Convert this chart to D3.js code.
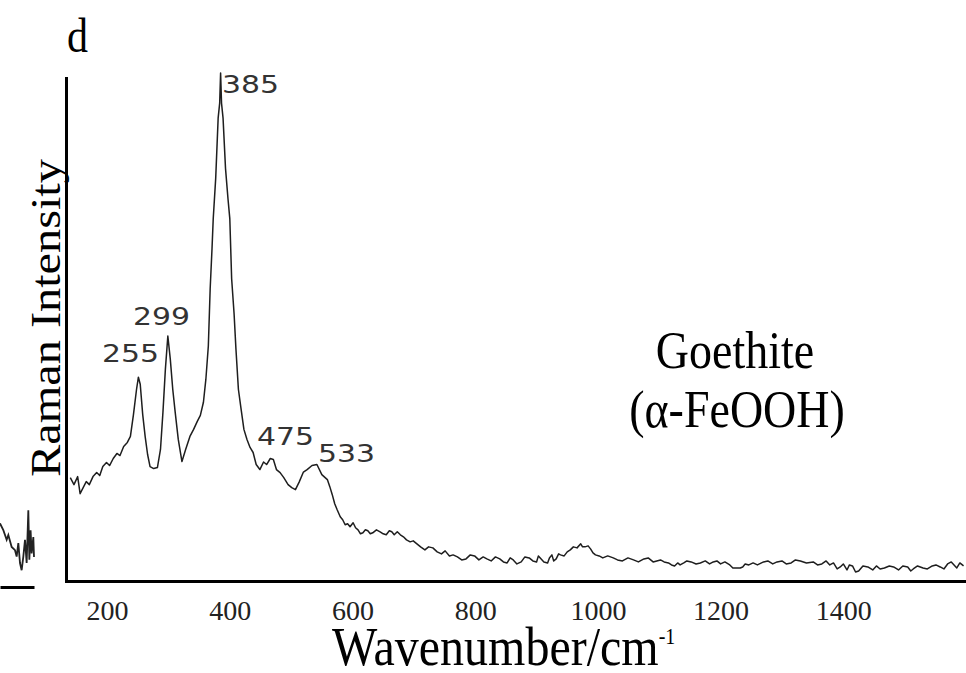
<!DOCTYPE html>
<html>
<head>
<meta charset="utf-8">
<script src="https://cdnjs.cloudflare.com/ajax/libs/d3/7.8.5/d3.min.js"></script>
<style>
  body { margin: 0; background: #fff; }
  svg { display: block; }
</style>
</head>
<body>
<div id="chart"></div>
<script>
// wavenumber (cm-1) and intensity (arbitrary, 0-100)
const wavenumbers = [140,146,152,156,161,166,171,177,183,188,193,199,204,210,216,221,227,233,238,243,248,251,254,258,262,266,270,276,282,287,291,295,299,303,307,311,316,322,328,335,341,347,352,357,361,365,368,371,373,377,381,383.5,385,386.5,389,393,397,400,403,407,410,414,418,423,428,433,438,443,449,455,460,466,471,476,482,488,495,501,507,513,520,526,534,542,550,559,563,567,571,575,580,584,588,592,596,601,605,609,613,617,621,625,629,633,639,645,650,655,660,664,668,673,678,683,688,694,699,705,711,718,724,731,738,745,751,758,764,771,778,785,792,799,806,813,819,826,833,840,846,852,857,862,868,875,881,888,894,900,903,906,912,918,921,925,928,932,936,939,945,950,955,960,966,972,975,979,984,988,992,996,1002,1008,1016,1025,1032,1040,1049,1058,1066,1075,1082,1090,1096,1102,1108,1115,1120,1125,1130,1134,1140,1145,1152,1160,1167,1175,1182,1188,1194,1200,1207,1215,1220,1225,1232,1236,1240,1246,1253,1260,1270,1277,1285,1292,1300,1307,1315,1322,1330,1340,1351,1358,1365,1372,1378,1384,1390,1395,1400,1406,1410,1415,1420,1425,1432,1440,1448,1454,1460,1467,1475,1482,1490,1497,1505,1510,1514,1521,1530,1537,1545,1551,1558,1564,1570,1576,1585,1590,1596];
const intensity = [20.4,19.0,20.6,17.2,18.4,19.6,19.0,20.6,21.4,20.8,22.6,23.4,22.8,24.2,25.2,24.8,26.6,27.4,28.6,33,38,40.4,39,33,28.6,25,22.6,22.2,22.4,26,33.4,42,48.6,44,38,33.4,28,23.6,26,28.6,30,31.6,32.8,35.4,40,46.6,58,66,72,80,92,95,101,95,92,82,76,72,60,53,46,38,34.4,30,28,26.4,25.4,23,22,23.5,23,24.2,24,22,21.4,20.4,19,18.4,18,19.5,21.5,22,22.8,23,21,20,18.6,17,15.2,14,12.6,12,11.0,11.2,10.6,11.4,10.4,10,9.2,9.4,10.0,9.8,9.2,9.4,10.0,9.6,9.2,9.0,9.8,9.6,9.0,9.6,9.0,8.6,8.0,7.6,7.8,7.2,6.6,6.0,6.6,6.4,5.6,5.2,5.8,4.8,5.0,4.6,4.0,4.2,5.0,4.8,4.0,4.6,4.2,3.8,4.6,4.2,3.6,3.4,4.4,4.0,3.2,3.6,4.6,4.4,3.8,3.6,4.8,4.4,3.6,3.4,4.4,5.0,3.8,4.2,5.2,5.0,4.8,5.6,6.0,6.6,6.4,7.2,6.6,6.6,6.8,6.2,5.4,5.0,4.8,4.4,4.8,4.4,4.0,3.8,4.4,4.0,3.6,4.2,4.4,3.6,3.8,4.0,3.6,3.4,3.0,2.8,3.4,3.0,3.4,3.8,3.6,3.2,3.4,3.8,3.2,3.6,3.8,3.2,3.6,3.0,2.4,2.4,2.4,2.6,3.2,3.0,3.4,3.0,3.6,3.8,3.2,3.6,3.8,3.2,3.4,4.0,3.8,3.4,3.6,3.0,3.2,3.8,3.0,3.4,2.2,2.6,3.2,2.0,3.0,2.8,1.6,1.8,2.8,2.6,2.0,2.8,2.2,2.4,2.8,2.6,2.0,2.8,2.6,1.8,2.2,2.8,2.4,2.2,2.8,3.0,2.6,2.2,3.2,3.6,2.4,3.4,2.8];

const xTicks = [200, 400, 600, 800, 1000, 1200, 1400];

const peakNames = ["385", "299", "255", "475", "533"];

// piece of the neighbouring panel that shows at the left edge
const sideIdx = [0, 0.98, 1.96, 2.45, 3.43, 4.41, 4.9, 5.39, 5.88, 6.37, 6.86, 7.35, 7.84, 8.33, 8.63, 9.0, 9.3, 9.8, 10];
const sideVal = [7.96, 7.1, 5.9, 6.5, 5.0, 4.6, 3.8, 5.5, 3.0, 2.1, 3.8, 5.9, 3.0, 9.6, 3.4, 7.1, 4.2, 6.25, 3.75];

const width = 966, height = 673;
const serif = "'Liberation Serif', 'Times New Roman', serif";
const stretch = 1.15;   // the figure is a bit taller than wide

const svg = d3.select("#chart").append("svg")
  .attr("width", width).attr("height", height);

const x = d3.scaleLinear().domain([133, 1600]).range([66, 966]);
const y = d3.scaleLinear().domain([0, 100]).range([580, 78]);

// x axis
const gx = svg.append("g")
  .attr("transform", "translate(0,581)")
  .call(d3.axisBottom(x).tickValues(xTicks).tickSize(0).tickSizeOuter(0).tickFormat(d3.format("d")));
gx.select(".domain").attr("stroke", "#000").attr("stroke-width", 3).attr("stroke-linecap", "square");
gx.selectAll("text")
  .attr("dy", null).attr("y", 39)
  .attr("fill", "#222")
  .style("font-family", serif).style("font-size", "28px");

// y axis, no ticks
const gy = svg.append("g")
  .attr("transform", "translate(66,0)")
  .call(d3.axisLeft(y).tickValues([]).tickSizeOuter(0));
gy.select(".domain").attr("stroke", "#000").attr("stroke-width", 3).attr("stroke-linecap", "square");

// spectrum
const spectrum = wavenumbers.map((w, i) => ({w: w, v: intensity[i]}));
const line = d3.line().x(d => x(d.w)).y(d => y(d.v));
svg.append("path")
  .datum(spectrum)
  .attr("fill", "none")
  .attr("stroke", "#1e1e1e")
  .attr("stroke-width", 1.5)
  .attr("stroke-linejoin", "round")
  .attr("d", line);

// peak labels
const peakPos = [[222, 93], [133, 325], [102, 362], [257, 445], [318, 462]];
svg.selectAll(".peak")
  .data(peakNames)
  .join("text")
  .attr("class", "peak")
  .attr("x", (d, i) => peakPos[i][0])
  .attr("y", (d, i) => peakPos[i][1])
  .attr("textLength", 57)
  .attr("lengthAdjust", "spacingAndGlyphs")
  .attr("fill", "#333")
  .style("font-family", "'DejaVu Sans', sans-serif")
  .style("font-size", "24px")
  .text(d => d);

// panel letter
svg.append("text")
  .attr("transform", `translate(67,52) scale(1,${stretch})`)
  .style("font-family", serif).style("font-size", "42px")
  .text("d");

// axis titles
svg.append("text")
  .attr("transform", `translate(60,318) scale(1,${stretch}) rotate(-90)`)
  .attr("text-anchor", "middle")
  .style("font-family", serif).style("font-size", "42px")
  .text("Raman Intensity");

const xt = svg.append("text")
  .attr("transform", `translate(332,665) scale(1,${stretch})`)
  .style("font-family", serif).style("font-size", "48px");
xt.append("tspan").text("Wavenumber/cm");
xt.append("tspan").attr("dy", -18).style("font-size", "20px").text("-1");

// mineral name
const name = svg.append("g").style("font-family", serif).style("font-size", "46px");
name.append("text")
  .attr("transform", `translate(735,368) scale(1,${stretch})`)
  .attr("text-anchor", "middle")
  .text("Goethite");
name.append("text")
  .attr("transform", `translate(737,427) scale(1,${stretch})`)
  .attr("text-anchor", "middle")
  .text("(α-FeOOH)");

// neighbouring panel fragment
const sx = d3.scaleLinear().domain([0, 10]).range([0, 34]);
const sy = d3.scaleLinear().domain([0, 10]).range([587, 507]);
svg.append("path")
  .datum(sideIdx.map((d, i) => [d, sideVal[i]]))
  .attr("fill", "none").attr("stroke", "#222").attr("stroke-width", 1.8)
  .attr("d", d3.line().x(d => sx(d[0])).y(d => sy(d[1])));
svg.append("g")
  .attr("transform", "translate(0,587)")
  .call(d3.axisBottom(sx).tickValues([]).tickSizeOuter(0))
  .select(".domain").attr("stroke", "#000").attr("stroke-width", 3);
</script>
</body>
</html>
